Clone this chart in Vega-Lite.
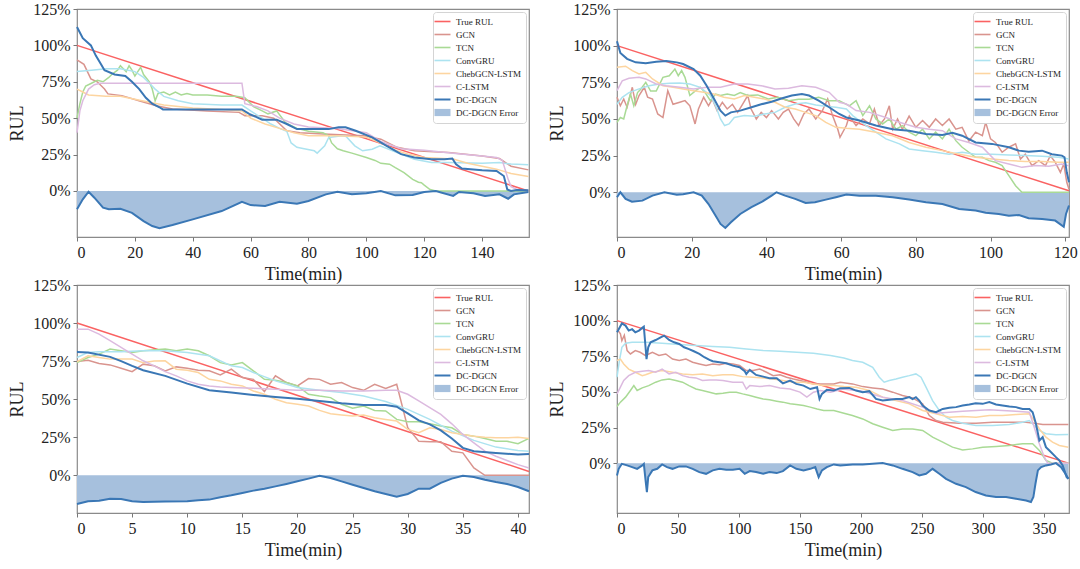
{
  "$schema": "https://vega.github.io/schema/vega-lite/v6.json",
  "background": "white",
  "padding": {"left": 8, "top": 0, "right": 0, "bottom": 4},
  "columns": 2,
  "spacing": {"row": -8, "column": 14},
  "datasets": {
    "p1": [
      {"s":"True RUL","t":0,"v":100},{"s":"True RUL","t":156,"v":0},
      {"s":"GCN","t":0,"v":90},{"s":"GCN","t":2.4,"v":87},{"s":"GCN","t":4.8,"v":77},{"s":"GCN","t":7,"v":75},{"s":"GCN","t":9.5,"v":70},{"s":"GCN","t":10.7,"v":66.7},{"s":"GCN","t":15.5,"v":65.5},{"s":"GCN","t":21.4,"v":62},{"s":"GCN","t":27.4,"v":58.6},{"s":"GCN","t":33,"v":56.3},{"s":"GCN","t":45,"v":55},{"s":"GCN","t":56,"v":54},{"s":"GCN","t":58,"v":51.7},{"s":"GCN","t":64,"v":51.7},{"s":"GCN","t":68,"v":50},{"s":"GCN","t":72.5,"v":41.4},{"s":"GCN","t":77,"v":40},{"s":"GCN","t":87,"v":39},{"s":"GCN","t":99,"v":38},{"s":"GCN","t":105,"v":35.6},{"s":"GCN","t":110.6,"v":30},{"s":"GCN","t":116.6,"v":27.6},{"s":"GCN","t":128.4,"v":26.4},{"s":"GCN","t":140,"v":24},{"s":"GCN","t":146,"v":22.3},{"s":"GCN","t":150,"v":17},{"s":"GCN","t":156,"v":14.5},
      {"s":"TCN","t":0,"v":50},{"s":"TCN","t":1,"v":60},{"s":"TCN","t":2,"v":68},{"s":"TCN","t":3,"v":72},{"s":"TCN","t":5,"v":74},{"s":"TCN","t":7,"v":76},{"s":"TCN","t":9,"v":75},{"s":"TCN","t":11,"v":78},{"s":"TCN","t":12,"v":80},{"s":"TCN","t":14,"v":83},{"s":"TCN","t":15,"v":86},{"s":"TCN","t":16,"v":84},{"s":"TCN","t":17,"v":82},{"s":"TCN","t":18,"v":86},{"s":"TCN","t":19,"v":83},{"s":"TCN","t":20,"v":79},{"s":"TCN","t":21,"v":82},{"s":"TCN","t":22,"v":85},{"s":"TCN","t":23,"v":80},{"s":"TCN","t":25,"v":75},{"s":"TCN","t":26,"v":70},{"s":"TCN","t":27,"v":62},{"s":"TCN","t":28,"v":67},{"s":"TCN","t":30,"v":68},{"s":"TCN","t":32,"v":66},{"s":"TCN","t":34,"v":68},{"s":"TCN","t":36,"v":66},{"s":"TCN","t":38,"v":67},{"s":"TCN","t":40,"v":66},{"s":"TCN","t":45,"v":66},{"s":"TCN","t":50,"v":65},{"s":"TCN","t":55,"v":65},{"s":"TCN","t":58,"v":64},{"s":"TCN","t":61,"v":58},{"s":"TCN","t":64,"v":55},{"s":"TCN","t":66,"v":53},{"s":"TCN","t":69,"v":55},{"s":"TCN","t":72,"v":47},{"s":"TCN","t":76,"v":43},{"s":"TCN","t":80,"v":41},{"s":"TCN","t":85,"v":40},{"s":"TCN","t":87,"v":38},{"s":"TCN","t":88,"v":33},{"s":"TCN","t":90,"v":29},{"s":"TCN","t":92,"v":27.6},{"s":"TCN","t":95,"v":26},{"s":"TCN","t":100,"v":23},{"s":"TCN","t":103,"v":21},{"s":"TCN","t":105,"v":19},{"s":"TCN","t":108,"v":18.4},{"s":"TCN","t":110,"v":16},{"s":"TCN","t":113,"v":12.6},{"s":"TCN","t":116,"v":8},{"s":"TCN","t":118,"v":6},{"s":"TCN","t":119,"v":5.7},{"s":"TCN","t":120,"v":4},{"s":"TCN","t":122,"v":1},{"s":"TCN","t":124,"v":0},{"s":"TCN","t":156,"v":0},
      {"s":"ConvGRU","t":0,"v":82},{"s":"ConvGRU","t":5,"v":83},{"s":"ConvGRU","t":10,"v":84},{"s":"ConvGRU","t":15,"v":84},{"s":"ConvGRU","t":20,"v":82},{"s":"ConvGRU","t":23,"v":78},{"s":"ConvGRU","t":25,"v":74},{"s":"ConvGRU","t":27,"v":70},{"s":"ConvGRU","t":30,"v":65},{"s":"ConvGRU","t":35,"v":62},{"s":"ConvGRU","t":40,"v":60},{"s":"ConvGRU","t":50,"v":59},{"s":"ConvGRU","t":57,"v":59},{"s":"ConvGRU","t":60,"v":55},{"s":"ConvGRU","t":64,"v":50},{"s":"ConvGRU","t":67,"v":46},{"s":"ConvGRU","t":70,"v":43},{"s":"ConvGRU","t":72.5,"v":41},{"s":"ConvGRU","t":74,"v":33},{"s":"ConvGRU","t":76,"v":30},{"s":"ConvGRU","t":78.5,"v":29},{"s":"ConvGRU","t":82,"v":27.6},{"s":"ConvGRU","t":83,"v":26},{"s":"ConvGRU","t":85.6,"v":31},{"s":"ConvGRU","t":87,"v":36.8},{"s":"ConvGRU","t":91.6,"v":38},{"s":"ConvGRU","t":93,"v":37.5},{"s":"ConvGRU","t":96,"v":31},{"s":"ConvGRU","t":98.7,"v":27.6},{"s":"ConvGRU","t":102,"v":28.7},{"s":"ConvGRU","t":104.7,"v":31},{"s":"ConvGRU","t":110.6,"v":26.4},{"s":"ConvGRU","t":116.6,"v":21.8},{"s":"ConvGRU","t":122.5,"v":19.5},{"s":"ConvGRU","t":128.4,"v":19.5},{"s":"ConvGRU","t":140,"v":19},{"s":"ConvGRU","t":146,"v":19.5},{"s":"ConvGRU","t":150,"v":18.5},{"s":"ConvGRU","t":156,"v":18},
      {"s":"ChebGCN-LSTM","t":0,"v":70},{"s":"ChebGCN-LSTM","t":2,"v":68},{"s":"ChebGCN-LSTM","t":4,"v":66},{"s":"ChebGCN-LSTM","t":10,"v":65},{"s":"ChebGCN-LSTM","t":15,"v":65},{"s":"ChebGCN-LSTM","t":20,"v":63},{"s":"ChebGCN-LSTM","t":25,"v":61},{"s":"ChebGCN-LSTM","t":30,"v":59},{"s":"ChebGCN-LSTM","t":40,"v":57},{"s":"ChebGCN-LSTM","t":50,"v":56},{"s":"ChebGCN-LSTM","t":57,"v":55},{"s":"ChebGCN-LSTM","t":60,"v":50},{"s":"ChebGCN-LSTM","t":65,"v":46},{"s":"ChebGCN-LSTM","t":70,"v":43},{"s":"ChebGCN-LSTM","t":75,"v":40},{"s":"ChebGCN-LSTM","t":80,"v":38},{"s":"ChebGCN-LSTM","t":90,"v":38},{"s":"ChebGCN-LSTM","t":100,"v":37},{"s":"ChebGCN-LSTM","t":105,"v":33},{"s":"ChebGCN-LSTM","t":110,"v":28},{"s":"ChebGCN-LSTM","t":115,"v":25},{"s":"ChebGCN-LSTM","t":120,"v":23},{"s":"ChebGCN-LSTM","t":130,"v":22},{"s":"ChebGCN-LSTM","t":135,"v":19},{"s":"ChebGCN-LSTM","t":140,"v":17},{"s":"ChebGCN-LSTM","t":145,"v":15},{"s":"ChebGCN-LSTM","t":150,"v":12},{"s":"ChebGCN-LSTM","t":156,"v":10},
      {"s":"C-LSTM","t":0,"v":40},{"s":"C-LSTM","t":1,"v":55},{"s":"C-LSTM","t":2,"v":62},{"s":"C-LSTM","t":4,"v":70},{"s":"C-LSTM","t":6,"v":73},{"s":"C-LSTM","t":8,"v":74},{"s":"C-LSTM","t":15,"v":74},{"s":"C-LSTM","t":25,"v":74},{"s":"C-LSTM","t":40,"v":74},{"s":"C-LSTM","t":50,"v":74},{"s":"C-LSTM","t":57,"v":74},{"s":"C-LSTM","t":58,"v":60},{"s":"C-LSTM","t":62,"v":58},{"s":"C-LSTM","t":66,"v":55},{"s":"C-LSTM","t":70,"v":50},{"s":"C-LSTM","t":75,"v":46},{"s":"C-LSTM","t":80,"v":44},{"s":"C-LSTM","t":90,"v":43},{"s":"C-LSTM","t":100,"v":40},{"s":"C-LSTM","t":105,"v":34},{"s":"C-LSTM","t":112,"v":29},{"s":"C-LSTM","t":120,"v":28},{"s":"C-LSTM","t":130,"v":26},{"s":"C-LSTM","t":140,"v":24},{"s":"C-LSTM","t":145,"v":23},{"s":"C-LSTM","t":147,"v":21},{"s":"C-LSTM","t":149,"v":8},{"s":"C-LSTM","t":150,"v":3},{"s":"C-LSTM","t":152,"v":1},{"s":"C-LSTM","t":156,"v":0},
      {"s":"DC-DGCN","t":0,"v":112.6},{"s":"DC-DGCN","t":2,"v":105},{"s":"DC-DGCN","t":4.8,"v":100},{"s":"DC-DGCN","t":6.5,"v":93},{"s":"DC-DGCN","t":8.3,"v":87},{"s":"DC-DGCN","t":9.5,"v":83},{"s":"DC-DGCN","t":13,"v":80},{"s":"DC-DGCN","t":16.7,"v":79},{"s":"DC-DGCN","t":19,"v":75},{"s":"DC-DGCN","t":21.5,"v":70},{"s":"DC-DGCN","t":23.8,"v":64},{"s":"DC-DGCN","t":26,"v":60},{"s":"DC-DGCN","t":28.5,"v":57.5},{"s":"DC-DGCN","t":29.7,"v":56},{"s":"DC-DGCN","t":35,"v":56},{"s":"DC-DGCN","t":45,"v":56},{"s":"DC-DGCN","t":57,"v":56},{"s":"DC-DGCN","t":59.5,"v":53},{"s":"DC-DGCN","t":64,"v":49},{"s":"DC-DGCN","t":69,"v":49},{"s":"DC-DGCN","t":72.5,"v":46},{"s":"DC-DGCN","t":76,"v":42.5},{"s":"DC-DGCN","t":81,"v":42.5},{"s":"DC-DGCN","t":87,"v":42.5},{"s":"DC-DGCN","t":90.4,"v":43.7},{"s":"DC-DGCN","t":92.8,"v":43.7},{"s":"DC-DGCN","t":96.3,"v":41.4},{"s":"DC-DGCN","t":102,"v":36.8},{"s":"DC-DGCN","t":107,"v":31},{"s":"DC-DGCN","t":112,"v":25.3},{"s":"DC-DGCN","t":116.6,"v":23},{"s":"DC-DGCN","t":122.5,"v":21.8},{"s":"DC-DGCN","t":127,"v":21.8},{"s":"DC-DGCN","t":129.7,"v":22.3},{"s":"DC-DGCN","t":131,"v":18.4},{"s":"DC-DGCN","t":133,"v":15.4},{"s":"DC-DGCN","t":140,"v":14.3},{"s":"DC-DGCN","t":145,"v":13.8},{"s":"DC-DGCN","t":147.5,"v":10.3},{"s":"DC-DGCN","t":148.7,"v":1},{"s":"DC-DGCN","t":150,"v":0},{"s":"DC-DGCN","t":152,"v":0.7},{"s":"DC-DGCN","t":156,"v":0.5},
      {"s":"DC-DGCN Error","t":0,"v":-12.6},{"s":"DC-DGCN Error","t":2,"v":-5.7},{"s":"DC-DGCN Error","t":4,"v":-0.5},{"s":"DC-DGCN Error","t":6,"v":-4.6},{"s":"DC-DGCN Error","t":9,"v":-11.5},{"s":"DC-DGCN Error","t":11,"v":-12.6},{"s":"DC-DGCN Error","t":15,"v":-12.2},{"s":"DC-DGCN Error","t":19,"v":-15},{"s":"DC-DGCN Error","t":23,"v":-20.7},{"s":"DC-DGCN Error","t":26,"v":-24.1},{"s":"DC-DGCN Error","t":28.5,"v":-25.5},{"s":"DC-DGCN Error","t":33,"v":-23.4},{"s":"DC-DGCN Error","t":40,"v":-19.5},{"s":"DC-DGCN Error","t":50,"v":-13.8},{"s":"DC-DGCN Error","t":57,"v":-7.4},{"s":"DC-DGCN Error","t":60,"v":-9.7},{"s":"DC-DGCN Error","t":65,"v":-10.3},{"s":"DC-DGCN Error","t":70,"v":-7.4},{"s":"DC-DGCN Error","t":76,"v":-8.7},{"s":"DC-DGCN Error","t":80,"v":-6.9},{"s":"DC-DGCN Error","t":86,"v":-2.3},{"s":"DC-DGCN Error","t":90,"v":-0.5},{"s":"DC-DGCN Error","t":95,"v":-2.3},{"s":"DC-DGCN Error","t":100,"v":-1.6},{"s":"DC-DGCN Error","t":105,"v":0},{"s":"DC-DGCN Error","t":110,"v":-3},{"s":"DC-DGCN Error","t":116,"v":-2.8},{"s":"DC-DGCN Error","t":120,"v":-0.7},{"s":"DC-DGCN Error","t":124,"v":0},{"s":"DC-DGCN Error","t":130,"v":-3.4},{"s":"DC-DGCN Error","t":132,"v":-0.7},{"s":"DC-DGCN Error","t":137,"v":-1.6},{"s":"DC-DGCN Error","t":141,"v":-3.4},{"s":"DC-DGCN Error","t":146,"v":-2.3},{"s":"DC-DGCN Error","t":149,"v":-5.3},{"s":"DC-DGCN Error","t":151,"v":-2.3},{"s":"DC-DGCN Error","t":156,"v":-0.7}
    ],
    "p2": [
      {"s":"True RUL","t":0,"v":100},{"s":"True RUL","t":121,"v":1},
      {"s":"GCN","t":0,"v":64.8},{"s":"GCN","t":0.9,"v":59},{"s":"GCN","t":1.8,"v":63.6},{"s":"GCN","t":2.7,"v":58},{"s":"GCN","t":4.1,"v":71.6},{"s":"GCN","t":5,"v":60},{"s":"GCN","t":5.9,"v":66},{"s":"GCN","t":7.3,"v":71.6},{"s":"GCN","t":8.2,"v":64.8},{"s":"GCN","t":9.5,"v":63.6},{"s":"GCN","t":10.9,"v":53.4},{"s":"GCN","t":12.3,"v":51},{"s":"GCN","t":13.6,"v":69.3},{"s":"GCN","t":15,"v":60},{"s":"GCN","t":16.8,"v":61.4},{"s":"GCN","t":18.2,"v":62.5},{"s":"GCN","t":19.5,"v":59},{"s":"GCN","t":20.9,"v":46.6},{"s":"GCN","t":21.8,"v":56.8},{"s":"GCN","t":23.2,"v":64.8},{"s":"GCN","t":24.5,"v":59},{"s":"GCN","t":25.5,"v":63.6},{"s":"GCN","t":26.8,"v":55.7},{"s":"GCN","t":28.2,"v":61.4},{"s":"GCN","t":29.5,"v":56.8},{"s":"GCN","t":30.9,"v":60},{"s":"GCN","t":32.3,"v":54.5},{"s":"GCN","t":33.6,"v":60},{"s":"GCN","t":35,"v":66},{"s":"GCN","t":35.9,"v":56.8},{"s":"GCN","t":37.3,"v":50},{"s":"GCN","t":38.6,"v":54.5},{"s":"GCN","t":40,"v":51},{"s":"GCN","t":41.4,"v":55.7},{"s":"GCN","t":43.2,"v":50},{"s":"GCN","t":44.5,"v":54.5},{"s":"GCN","t":45.9,"v":56.8},{"s":"GCN","t":47.3,"v":50},{"s":"GCN","t":48.6,"v":45.5},{"s":"GCN","t":50,"v":53.4},{"s":"GCN","t":51.4,"v":56.8},{"s":"GCN","t":53.2,"v":50},{"s":"GCN","t":55,"v":55.7},{"s":"GCN","t":56.4,"v":63.6},{"s":"GCN","t":57.7,"v":52.3},{"s":"GCN","t":59.1,"v":43},{"s":"GCN","t":59.7,"v":37.5},{"s":"GCN","t":61.4,"v":45.5},{"s":"GCN","t":62.2,"v":52},{"s":"GCN","t":64,"v":45.5},{"s":"GCN","t":65.8,"v":50},{"s":"GCN","t":67.6,"v":46.6},{"s":"GCN","t":68.9,"v":56.8},{"s":"GCN","t":70.2,"v":45.5},{"s":"GCN","t":71.6,"v":50},{"s":"GCN","t":72.9,"v":59},{"s":"GCN","t":73.8,"v":43},{"s":"GCN","t":75.1,"v":50},{"s":"GCN","t":76.4,"v":43},{"s":"GCN","t":78.2,"v":52},{"s":"GCN","t":80,"v":44.3},{"s":"GCN","t":81.8,"v":48.9},{"s":"GCN","t":83.6,"v":44.3},{"s":"GCN","t":85.3,"v":50},{"s":"GCN","t":87.1,"v":45.5},{"s":"GCN","t":88.9,"v":50},{"s":"GCN","t":90.7,"v":43},{"s":"GCN","t":92.4,"v":44.3},{"s":"GCN","t":94.2,"v":35},{"s":"GCN","t":96,"v":41},{"s":"GCN","t":97.8,"v":38.6},{"s":"GCN","t":98.7,"v":47.7},{"s":"GCN","t":100,"v":36.4},{"s":"GCN","t":101.3,"v":34},{"s":"GCN","t":103.1,"v":27.3},{"s":"GCN","t":104.9,"v":30.7},{"s":"GCN","t":106.7,"v":33},{"s":"GCN","t":108,"v":22.7},{"s":"GCN","t":109.3,"v":26},{"s":"GCN","t":111.1,"v":18.2},{"s":"GCN","t":112.9,"v":21.6},{"s":"GCN","t":114.7,"v":18.2},{"s":"GCN","t":116,"v":25},{"s":"GCN","t":117.3,"v":20.5},{"s":"GCN","t":118.7,"v":13.6},{"s":"GCN","t":119.6,"v":19.3},{"s":"GCN","t":120.4,"v":6.8},{"s":"GCN","t":121,"v":2},
      {"s":"TCN","t":0,"v":47.7},{"s":"TCN","t":0.9,"v":51},{"s":"TCN","t":1.8,"v":50},{"s":"TCN","t":2.7,"v":59},{"s":"TCN","t":3.6,"v":67},{"s":"TCN","t":4.5,"v":59},{"s":"TCN","t":5.5,"v":68},{"s":"TCN","t":6.4,"v":70.5},{"s":"TCN","t":7.7,"v":75},{"s":"TCN","t":9,"v":69},{"s":"TCN","t":10.5,"v":69},{"s":"TCN","t":12.3,"v":78.4},{"s":"TCN","t":14,"v":79.5},{"s":"TCN","t":15.5,"v":84},{"s":"TCN","t":16.4,"v":79.5},{"s":"TCN","t":17.3,"v":83},{"s":"TCN","t":18.2,"v":78.4},{"s":"TCN","t":19.5,"v":66},{"s":"TCN","t":20.9,"v":69},{"s":"TCN","t":22.3,"v":71.6},{"s":"TCN","t":23.6,"v":68},{"s":"TCN","t":25,"v":62.5},{"s":"TCN","t":26.4,"v":67},{"s":"TCN","t":27.7,"v":66},{"s":"TCN","t":29.5,"v":67},{"s":"TCN","t":31.4,"v":66},{"s":"TCN","t":33,"v":68},{"s":"TCN","t":35,"v":66},{"s":"TCN","t":37.7,"v":66.4},{"s":"TCN","t":40.5,"v":63.6},{"s":"TCN","t":43,"v":64.8},{"s":"TCN","t":46,"v":62.5},{"s":"TCN","t":48.6,"v":63.5},{"s":"TCN","t":51.4,"v":63.5},{"s":"TCN","t":54,"v":64.8},{"s":"TCN","t":56.8,"v":62.5},{"s":"TCN","t":59.5,"v":62.5},{"s":"TCN","t":61.4,"v":60},{"s":"TCN","t":62.2,"v":59},{"s":"TCN","t":64,"v":62.5},{"s":"TCN","t":65.8,"v":52.3},{"s":"TCN","t":67.6,"v":59},{"s":"TCN","t":69.3,"v":50},{"s":"TCN","t":71.1,"v":46.6},{"s":"TCN","t":72.9,"v":50},{"s":"TCN","t":74.7,"v":43},{"s":"TCN","t":76.4,"v":45.5},{"s":"TCN","t":78.2,"v":41},{"s":"TCN","t":80,"v":38.6},{"s":"TCN","t":81.8,"v":43},{"s":"TCN","t":83.6,"v":36.4},{"s":"TCN","t":85.3,"v":41},{"s":"TCN","t":87.1,"v":36.4},{"s":"TCN","t":88.9,"v":43},{"s":"TCN","t":90.7,"v":35.2},{"s":"TCN","t":92.4,"v":30.7},{"s":"TCN","t":94.2,"v":27.3},{"s":"TCN","t":96,"v":23.9},{"s":"TCN","t":97.8,"v":23.9},{"s":"TCN","t":99.6,"v":21.6},{"s":"TCN","t":101.3,"v":20.5},{"s":"TCN","t":103.1,"v":18.2},{"s":"TCN","t":104.9,"v":11.4},{"s":"TCN","t":106.7,"v":4.5},{"s":"TCN","t":108.4,"v":0},{"s":"TCN","t":121,"v":0},
      {"s":"ConvGRU","t":0,"v":60},{"s":"ConvGRU","t":1.4,"v":64.8},{"s":"ConvGRU","t":3.2,"v":68},{"s":"ConvGRU","t":5.9,"v":70.5},{"s":"ConvGRU","t":8.6,"v":72.7},{"s":"ConvGRU","t":11.4,"v":73.9},{"s":"ConvGRU","t":14.1,"v":74.3},{"s":"ConvGRU","t":16.8,"v":74.5},{"s":"ConvGRU","t":19.5,"v":73.9},{"s":"ConvGRU","t":22.3,"v":71.6},{"s":"ConvGRU","t":25,"v":66},{"s":"ConvGRU","t":26.4,"v":59},{"s":"ConvGRU","t":27.7,"v":50},{"s":"ConvGRU","t":28.8,"v":45.5},{"s":"ConvGRU","t":30,"v":46.6},{"s":"ConvGRU","t":31.4,"v":51},{"s":"ConvGRU","t":34.1,"v":52.3},{"s":"ConvGRU","t":36.8,"v":51.8},{"s":"ConvGRU","t":39.5,"v":53.4},{"s":"ConvGRU","t":42.3,"v":54.5},{"s":"ConvGRU","t":45,"v":58},{"s":"ConvGRU","t":47.7,"v":60.2},{"s":"ConvGRU","t":50.5,"v":61},{"s":"ConvGRU","t":53.2,"v":59.5},{"s":"ConvGRU","t":55.9,"v":58.6},{"s":"ConvGRU","t":58.6,"v":58},{"s":"ConvGRU","t":61.4,"v":56.8},{"s":"ConvGRU","t":63.1,"v":52.3},{"s":"ConvGRU","t":66.7,"v":45.5},{"s":"ConvGRU","t":69.3,"v":41},{"s":"ConvGRU","t":72,"v":36.4},{"s":"ConvGRU","t":75.6,"v":33},{"s":"ConvGRU","t":78.2,"v":29.5},{"s":"ConvGRU","t":81.8,"v":28.4},{"s":"ConvGRU","t":85.3,"v":27.3},{"s":"ConvGRU","t":88.9,"v":26},{"s":"ConvGRU","t":92.4,"v":27.3},{"s":"ConvGRU","t":96,"v":26},{"s":"ConvGRU","t":100.4,"v":26},{"s":"ConvGRU","t":104.9,"v":25.5},{"s":"ConvGRU","t":109.3,"v":25},{"s":"ConvGRU","t":113.8,"v":24.5},{"s":"ConvGRU","t":118.2,"v":23.9},{"s":"ConvGRU","t":121,"v":22.7},
      {"s":"ChebGCN-LSTM","t":0,"v":85.2},{"s":"ChebGCN-LSTM","t":2.3,"v":86},{"s":"ChebGCN-LSTM","t":4.1,"v":83},{"s":"ChebGCN-LSTM","t":5.9,"v":80.7},{"s":"ChebGCN-LSTM","t":7.7,"v":81.8},{"s":"ChebGCN-LSTM","t":9.5,"v":77.3},{"s":"ChebGCN-LSTM","t":12.3,"v":72.7},{"s":"ChebGCN-LSTM","t":15,"v":71.6},{"s":"ChebGCN-LSTM","t":17.7,"v":70.5},{"s":"ChebGCN-LSTM","t":20.5,"v":69.3},{"s":"ChebGCN-LSTM","t":23.2,"v":68.2},{"s":"ChebGCN-LSTM","t":25.9,"v":67},{"s":"ChebGCN-LSTM","t":28.6,"v":64.8},{"s":"ChebGCN-LSTM","t":31.4,"v":63.6},{"s":"ChebGCN-LSTM","t":34.1,"v":66},{"s":"ChebGCN-LSTM","t":36.8,"v":64.8},{"s":"ChebGCN-LSTM","t":39.5,"v":63.6},{"s":"ChebGCN-LSTM","t":42.3,"v":61.4},{"s":"ChebGCN-LSTM","t":45,"v":58},{"s":"ChebGCN-LSTM","t":47.7,"v":56.8},{"s":"ChebGCN-LSTM","t":50.5,"v":54.5},{"s":"ChebGCN-LSTM","t":53.2,"v":52.3},{"s":"ChebGCN-LSTM","t":55.9,"v":47.7},{"s":"ChebGCN-LSTM","t":58.6,"v":44.3},{"s":"ChebGCN-LSTM","t":61.4,"v":43.6},{"s":"ChebGCN-LSTM","t":64.9,"v":43},{"s":"ChebGCN-LSTM","t":69.3,"v":41},{"s":"ChebGCN-LSTM","t":73.8,"v":38.6},{"s":"ChebGCN-LSTM","t":78.2,"v":34},{"s":"ChebGCN-LSTM","t":82.7,"v":30.7},{"s":"ChebGCN-LSTM","t":87.1,"v":28.4},{"s":"ChebGCN-LSTM","t":91.6,"v":26},{"s":"ChebGCN-LSTM","t":96,"v":23.9},{"s":"ChebGCN-LSTM","t":100.4,"v":22.7},{"s":"ChebGCN-LSTM","t":104.9,"v":21.6},{"s":"ChebGCN-LSTM","t":109.3,"v":21},{"s":"ChebGCN-LSTM","t":113.8,"v":21},{"s":"ChebGCN-LSTM","t":118.2,"v":20.5},{"s":"ChebGCN-LSTM","t":121,"v":20.5},
      {"s":"C-LSTM","t":0,"v":69.3},{"s":"C-LSTM","t":1.4,"v":76},{"s":"C-LSTM","t":3.2,"v":77.7},{"s":"C-LSTM","t":5.9,"v":78.4},{"s":"C-LSTM","t":7.7,"v":77.3},{"s":"C-LSTM","t":10.5,"v":73.9},{"s":"C-LSTM","t":13.2,"v":72.7},{"s":"C-LSTM","t":16.8,"v":71.6},{"s":"C-LSTM","t":20.5,"v":70.5},{"s":"C-LSTM","t":24.1,"v":71.6},{"s":"C-LSTM","t":27.7,"v":71.6},{"s":"C-LSTM","t":31.4,"v":73.9},{"s":"C-LSTM","t":35,"v":73.9},{"s":"C-LSTM","t":38.6,"v":72.7},{"s":"C-LSTM","t":42.3,"v":70.5},{"s":"C-LSTM","t":45.9,"v":71},{"s":"C-LSTM","t":49.5,"v":72.7},{"s":"C-LSTM","t":53.2,"v":71.6},{"s":"C-LSTM","t":56.8,"v":68.2},{"s":"C-LSTM","t":59.5,"v":61.4},{"s":"C-LSTM","t":61.4,"v":60.2},{"s":"C-LSTM","t":64,"v":55.7},{"s":"C-LSTM","t":67.6,"v":54.5},{"s":"C-LSTM","t":72,"v":51},{"s":"C-LSTM","t":75.6,"v":47.7},{"s":"C-LSTM","t":80,"v":44.3},{"s":"C-LSTM","t":83.6,"v":43},{"s":"C-LSTM","t":87.1,"v":42},{"s":"C-LSTM","t":90.7,"v":36.4},{"s":"C-LSTM","t":94.2,"v":34},{"s":"C-LSTM","t":97.8,"v":30.7},{"s":"C-LSTM","t":101.3,"v":21.6},{"s":"C-LSTM","t":104.9,"v":19.3},{"s":"C-LSTM","t":108.4,"v":17},{"s":"C-LSTM","t":112,"v":18.2},{"s":"C-LSTM","t":115.6,"v":17.7},{"s":"C-LSTM","t":119.1,"v":19.3},{"s":"C-LSTM","t":121,"v":18},
      {"s":"DC-DGCN","t":0,"v":103},{"s":"DC-DGCN","t":0.9,"v":95},{"s":"DC-DGCN","t":2.7,"v":91},{"s":"DC-DGCN","t":5,"v":88.6},{"s":"DC-DGCN","t":7.7,"v":88},{"s":"DC-DGCN","t":10.5,"v":89},{"s":"DC-DGCN","t":13.2,"v":89.5},{"s":"DC-DGCN","t":16,"v":88.6},{"s":"DC-DGCN","t":17.7,"v":87.5},{"s":"DC-DGCN","t":20.5,"v":84},{"s":"DC-DGCN","t":22.3,"v":79.5},{"s":"DC-DGCN","t":24,"v":72.7},{"s":"DC-DGCN","t":26,"v":63.6},{"s":"DC-DGCN","t":27.7,"v":55.7},{"s":"DC-DGCN","t":29,"v":52.3},{"s":"DC-DGCN","t":30.5,"v":54.5},{"s":"DC-DGCN","t":33,"v":55.7},{"s":"DC-DGCN","t":36,"v":58},{"s":"DC-DGCN","t":38.6,"v":60},{"s":"DC-DGCN","t":41.4,"v":61.8},{"s":"DC-DGCN","t":44,"v":64},{"s":"DC-DGCN","t":46.8,"v":66},{"s":"DC-DGCN","t":49.5,"v":67},{"s":"DC-DGCN","t":51.4,"v":66},{"s":"DC-DGCN","t":54,"v":62.5},{"s":"DC-DGCN","t":56.8,"v":58},{"s":"DC-DGCN","t":59.5,"v":53.4},{"s":"DC-DGCN","t":61.4,"v":51},{"s":"DC-DGCN","t":64.9,"v":48.9},{"s":"DC-DGCN","t":69.3,"v":45.5},{"s":"DC-DGCN","t":73.8,"v":43},{"s":"DC-DGCN","t":78.2,"v":42},{"s":"DC-DGCN","t":82.7,"v":39.8},{"s":"DC-DGCN","t":87.1,"v":39},{"s":"DC-DGCN","t":89.8,"v":40.5},{"s":"DC-DGCN","t":92.4,"v":38.6},{"s":"DC-DGCN","t":96,"v":34},{"s":"DC-DGCN","t":100.4,"v":33},{"s":"DC-DGCN","t":104.9,"v":30.7},{"s":"DC-DGCN","t":107.6,"v":28.4},{"s":"DC-DGCN","t":110.2,"v":27.7},{"s":"DC-DGCN","t":113.8,"v":28.4},{"s":"DC-DGCN","t":116.4,"v":26},{"s":"DC-DGCN","t":119.1,"v":25},{"s":"DC-DGCN","t":119.8,"v":23.9},{"s":"DC-DGCN","t":120.4,"v":13.6},{"s":"DC-DGCN","t":121,"v":6.8},
      {"s":"DC-DGCN Error","t":0,"v":-3.4},{"s":"DC-DGCN Error","t":0.9,"v":0},{"s":"DC-DGCN Error","t":2.3,"v":-4.5},{"s":"DC-DGCN Error","t":4,"v":-6.4},{"s":"DC-DGCN Error","t":6.8,"v":-5.7},{"s":"DC-DGCN Error","t":9.5,"v":-2.3},{"s":"DC-DGCN Error","t":12.7,"v":0},{"s":"DC-DGCN Error","t":16,"v":-1.6},{"s":"DC-DGCN Error","t":17.7,"v":-1.4},{"s":"DC-DGCN Error","t":20.5,"v":0},{"s":"DC-DGCN Error","t":22.7,"v":-2.3},{"s":"DC-DGCN Error","t":24.5,"v":-8},{"s":"DC-DGCN Error","t":26.4,"v":-16},{"s":"DC-DGCN Error","t":27.7,"v":-21.6},{"s":"DC-DGCN Error","t":29,"v":-24.3},{"s":"DC-DGCN Error","t":30.5,"v":-20.5},{"s":"DC-DGCN Error","t":33,"v":-14.8},{"s":"DC-DGCN Error","t":36,"v":-10.2},{"s":"DC-DGCN Error","t":38.6,"v":-6.8},{"s":"DC-DGCN Error","t":41.4,"v":-2.3},{"s":"DC-DGCN Error","t":42.7,"v":0},{"s":"DC-DGCN Error","t":45,"v":-2.3},{"s":"DC-DGCN Error","t":47.7,"v":-4.5},{"s":"DC-DGCN Error","t":50.5,"v":-7.3},{"s":"DC-DGCN Error","t":53,"v":-6.8},{"s":"DC-DGCN Error","t":55.9,"v":-5},{"s":"DC-DGCN Error","t":58.6,"v":-3.4},{"s":"DC-DGCN Error","t":61.4,"v":-1.6},{"s":"DC-DGCN Error","t":64.9,"v":-2.3},{"s":"DC-DGCN Error","t":69.3,"v":-2.3},{"s":"DC-DGCN Error","t":73.8,"v":-3.4},{"s":"DC-DGCN Error","t":78.2,"v":-5},{"s":"DC-DGCN Error","t":82.7,"v":-6.8},{"s":"DC-DGCN Error","t":87.1,"v":-8},{"s":"DC-DGCN Error","t":91.6,"v":-11.4},{"s":"DC-DGCN Error","t":96,"v":-12.5},{"s":"DC-DGCN Error","t":98.7,"v":-14},{"s":"DC-DGCN Error","t":102.2,"v":-14.8},{"s":"DC-DGCN Error","t":104.9,"v":-16},{"s":"DC-DGCN Error","t":107.6,"v":-15.5},{"s":"DC-DGCN Error","t":110.2,"v":-17.7},{"s":"DC-DGCN Error","t":113.8,"v":-18.2},{"s":"DC-DGCN Error","t":117.3,"v":-19.3},{"s":"DC-DGCN Error","t":119.6,"v":-23.5},{"s":"DC-DGCN Error","t":120.2,"v":-14.8},{"s":"DC-DGCN Error","t":121,"v":-9}
    ],
    "p3": [
      {"s":"True RUL","t":0,"v":100},{"s":"True RUL","t":41,"v":2.5},
      {"s":"GCN","t":0,"v":74.7},{"s":"GCN","t":1,"v":75.6},{"s":"GCN","t":2,"v":73.4},{"s":"GCN","t":3,"v":72.5},{"s":"GCN","t":4,"v":70.3},{"s":"GCN","t":5,"v":68.1},{"s":"GCN","t":6,"v":73},{"s":"GCN","t":7,"v":71.9},{"s":"GCN","t":8,"v":68.6},{"s":"GCN","t":9,"v":71.2},{"s":"GCN","t":10,"v":70.3},{"s":"GCN","t":11,"v":69},{"s":"GCN","t":12,"v":68.6},{"s":"GCN","t":13,"v":65.9},{"s":"GCN","t":14,"v":69.7},{"s":"GCN","t":15,"v":64.2},{"s":"GCN","t":16,"v":63},{"s":"GCN","t":17,"v":55},{"s":"GCN","t":18,"v":65.3},{"s":"GCN","t":19,"v":60.9},{"s":"GCN","t":20,"v":58.7},{"s":"GCN","t":21,"v":63.5},{"s":"GCN","t":22,"v":63},{"s":"GCN","t":23,"v":59.8},{"s":"GCN","t":24,"v":60.9},{"s":"GCN","t":25,"v":57.6},{"s":"GCN","t":26,"v":55.8},{"s":"GCN","t":27,"v":59.8},{"s":"GCN","t":28,"v":57.1},{"s":"GCN","t":29,"v":59.8},{"s":"GCN","t":30,"v":31.2},{"s":"GCN","t":31,"v":22.4},{"s":"GCN","t":32,"v":22},{"s":"GCN","t":33,"v":22},{"s":"GCN","t":34,"v":15.8},{"s":"GCN","t":35,"v":14.7},{"s":"GCN","t":36,"v":4.8},{"s":"GCN","t":37,"v":0},{"s":"GCN","t":41,"v":0},
      {"s":"TCN","t":0,"v":74},{"s":"TCN","t":1,"v":77.4},{"s":"TCN","t":2,"v":79.6},{"s":"TCN","t":3,"v":82.9},{"s":"TCN","t":4,"v":81.8},{"s":"TCN","t":5,"v":80.7},{"s":"TCN","t":6,"v":81.8},{"s":"TCN","t":8,"v":82.9},{"s":"TCN","t":9,"v":81.8},{"s":"TCN","t":10,"v":82.9},{"s":"TCN","t":11,"v":81.8},{"s":"TCN","t":12,"v":78.5},{"s":"TCN","t":13,"v":74},{"s":"TCN","t":14,"v":72.5},{"s":"TCN","t":15,"v":74},{"s":"TCN","t":16,"v":68.6},{"s":"TCN","t":17,"v":63},{"s":"TCN","t":18,"v":62.4},{"s":"TCN","t":19,"v":60.9},{"s":"TCN","t":20,"v":58.7},{"s":"TCN","t":21,"v":53.2},{"s":"TCN","t":22,"v":52},{"s":"TCN","t":23,"v":51},{"s":"TCN","t":24,"v":46.6},{"s":"TCN","t":25,"v":44},{"s":"TCN","t":26,"v":45.5},{"s":"TCN","t":27,"v":42.6},{"s":"TCN","t":28,"v":42.2},{"s":"TCN","t":29,"v":36.7},{"s":"TCN","t":30,"v":35.2},{"s":"TCN","t":31,"v":35.2},{"s":"TCN","t":32,"v":33.8},{"s":"TCN","t":33,"v":32.3},{"s":"TCN","t":34,"v":31.2},{"s":"TCN","t":35,"v":26.8},{"s":"TCN","t":36,"v":25.7},{"s":"TCN","t":37,"v":24.2},{"s":"TCN","t":38,"v":22.4},{"s":"TCN","t":39,"v":22.4},{"s":"TCN","t":40,"v":20.7},{"s":"TCN","t":41,"v":24.2},
      {"s":"ConvGRU","t":0,"v":77.4},{"s":"ConvGRU","t":1,"v":80.7},{"s":"ConvGRU","t":2,"v":81.1},{"s":"ConvGRU","t":4,"v":81.1},{"s":"ConvGRU","t":6,"v":81.8},{"s":"ConvGRU","t":8,"v":81.8},{"s":"ConvGRU","t":10,"v":80.7},{"s":"ConvGRU","t":12,"v":78.5},{"s":"ConvGRU","t":14,"v":71.9},{"s":"ConvGRU","t":15,"v":70.8},{"s":"ConvGRU","t":16,"v":67.5},{"s":"ConvGRU","t":18,"v":62},{"s":"ConvGRU","t":20,"v":57.6},{"s":"ConvGRU","t":22,"v":55.8},{"s":"ConvGRU","t":24,"v":54.3},{"s":"ConvGRU","t":26,"v":52},{"s":"ConvGRU","t":28,"v":48.4},{"s":"ConvGRU","t":30,"v":43.3},{"s":"ConvGRU","t":32,"v":36.7},{"s":"ConvGRU","t":34,"v":29},{"s":"ConvGRU","t":36,"v":22.9},{"s":"ConvGRU","t":38,"v":18.5},{"s":"ConvGRU","t":40,"v":16.3},{"s":"ConvGRU","t":41,"v":15.8},
      {"s":"ChebGCN-LSTM","t":0,"v":74.7},{"s":"ChebGCN-LSTM","t":1,"v":78.5},{"s":"ChebGCN-LSTM","t":2,"v":77.4},{"s":"ChebGCN-LSTM","t":3,"v":76.3},{"s":"ChebGCN-LSTM","t":5,"v":76.3},{"s":"ChebGCN-LSTM","t":6,"v":74},{"s":"ChebGCN-LSTM","t":7,"v":75},{"s":"ChebGCN-LSTM","t":8,"v":75.2},{"s":"ChebGCN-LSTM","t":9,"v":69.7},{"s":"ChebGCN-LSTM","t":10,"v":69},{"s":"ChebGCN-LSTM","t":11,"v":67.5},{"s":"ChebGCN-LSTM","t":12,"v":63},{"s":"ChebGCN-LSTM","t":13,"v":62},{"s":"ChebGCN-LSTM","t":14,"v":59.8},{"s":"ChebGCN-LSTM","t":15,"v":58.7},{"s":"ChebGCN-LSTM","t":16,"v":55.4},{"s":"ChebGCN-LSTM","t":17,"v":53.2},{"s":"ChebGCN-LSTM","t":18,"v":49.9},{"s":"ChebGCN-LSTM","t":19,"v":47.7},{"s":"ChebGCN-LSTM","t":20,"v":46.6},{"s":"ChebGCN-LSTM","t":21,"v":45.5},{"s":"ChebGCN-LSTM","t":22,"v":42.6},{"s":"ChebGCN-LSTM","t":23,"v":40.4},{"s":"ChebGCN-LSTM","t":24,"v":39.6},{"s":"ChebGCN-LSTM","t":25,"v":38.9},{"s":"ChebGCN-LSTM","t":26,"v":39.6},{"s":"ChebGCN-LSTM","t":27,"v":37.8},{"s":"ChebGCN-LSTM","t":28,"v":36.7},{"s":"ChebGCN-LSTM","t":29,"v":35.6},{"s":"ChebGCN-LSTM","t":30,"v":30.1},{"s":"ChebGCN-LSTM","t":31,"v":27.9},{"s":"ChebGCN-LSTM","t":32,"v":31.2},{"s":"ChebGCN-LSTM","t":33,"v":30.1},{"s":"ChebGCN-LSTM","t":34,"v":27.9},{"s":"ChebGCN-LSTM","t":35,"v":26.8},{"s":"ChebGCN-LSTM","t":36,"v":25.7},{"s":"ChebGCN-LSTM","t":37,"v":25},{"s":"ChebGCN-LSTM","t":38,"v":24.6},{"s":"ChebGCN-LSTM","t":39,"v":24.6},{"s":"ChebGCN-LSTM","t":40,"v":25},{"s":"ChebGCN-LSTM","t":41,"v":24.2},
      {"s":"C-LSTM","t":0,"v":96},{"s":"C-LSTM","t":1,"v":96},{"s":"C-LSTM","t":2,"v":92.7},{"s":"C-LSTM","t":3,"v":88.4},{"s":"C-LSTM","t":4,"v":84},{"s":"C-LSTM","t":5,"v":79.6},{"s":"C-LSTM","t":6,"v":75.2},{"s":"C-LSTM","t":7,"v":71.9},{"s":"C-LSTM","t":8,"v":68.1},{"s":"C-LSTM","t":9,"v":65.3},{"s":"C-LSTM","t":10,"v":62},{"s":"C-LSTM","t":11,"v":59.8},{"s":"C-LSTM","t":12,"v":58.7},{"s":"C-LSTM","t":13,"v":58},{"s":"C-LSTM","t":14,"v":57.6},{"s":"C-LSTM","t":16,"v":57.1},{"s":"C-LSTM","t":18,"v":56.5},{"s":"C-LSTM","t":20,"v":55.8},{"s":"C-LSTM","t":22,"v":55.8},{"s":"C-LSTM","t":24,"v":55.4},{"s":"C-LSTM","t":26,"v":55.4},{"s":"C-LSTM","t":28,"v":55.8},{"s":"C-LSTM","t":29,"v":55.8},{"s":"C-LSTM","t":30,"v":53.2},{"s":"C-LSTM","t":31,"v":48.8},{"s":"C-LSTM","t":32,"v":44.4},{"s":"C-LSTM","t":33,"v":40},{"s":"C-LSTM","t":34,"v":33.8},{"s":"C-LSTM","t":35,"v":26.8},{"s":"C-LSTM","t":36,"v":21.3},{"s":"C-LSTM","t":37,"v":15.8},{"s":"C-LSTM","t":38,"v":12.5},{"s":"C-LSTM","t":39,"v":9.7},{"s":"C-LSTM","t":40,"v":7},{"s":"C-LSTM","t":41,"v":4.8},
      {"s":"DC-DGCN","t":0,"v":81},{"s":"DC-DGCN","t":1,"v":80.7},{"s":"DC-DGCN","t":3,"v":77.8},{"s":"DC-DGCN","t":4,"v":75},{"s":"DC-DGCN","t":5,"v":71.9},{"s":"DC-DGCN","t":6,"v":69},{"s":"DC-DGCN","t":8,"v":65.3},{"s":"DC-DGCN","t":10,"v":60.2},{"s":"DC-DGCN","t":12,"v":55.8},{"s":"DC-DGCN","t":14,"v":54.3},{"s":"DC-DGCN","t":16,"v":52.7},{"s":"DC-DGCN","t":18,"v":51.4},{"s":"DC-DGCN","t":20,"v":50.3},{"s":"DC-DGCN","t":22,"v":48.8},{"s":"DC-DGCN","t":24,"v":47.3},{"s":"DC-DGCN","t":26,"v":46.2},{"s":"DC-DGCN","t":28,"v":46.2},{"s":"DC-DGCN","t":29,"v":45},{"s":"DC-DGCN","t":30,"v":40.7},{"s":"DC-DGCN","t":31,"v":36},{"s":"DC-DGCN","t":32,"v":33.4},{"s":"DC-DGCN","t":33,"v":29.5},{"s":"DC-DGCN","t":34,"v":24.2},{"s":"DC-DGCN","t":35,"v":18},{"s":"DC-DGCN","t":36,"v":15.8},{"s":"DC-DGCN","t":38,"v":14.7},{"s":"DC-DGCN","t":40,"v":13.6},{"s":"DC-DGCN","t":41,"v":14},
      {"s":"DC-DGCN Error","t":0,"v":-18.9},{"s":"DC-DGCN Error","t":1,"v":-17.1},{"s":"DC-DGCN Error","t":2,"v":-16.7},{"s":"DC-DGCN Error","t":3,"v":-15.4},{"s":"DC-DGCN Error","t":4,"v":-15.6},{"s":"DC-DGCN Error","t":5,"v":-17.1},{"s":"DC-DGCN Error","t":6,"v":-17.6},{"s":"DC-DGCN Error","t":8,"v":-17.2},{"s":"DC-DGCN Error","t":10,"v":-17.1},{"s":"DC-DGCN Error","t":11,"v":-16.5},{"s":"DC-DGCN Error","t":12,"v":-16},{"s":"DC-DGCN Error","t":13,"v":-14.5},{"s":"DC-DGCN Error","t":14,"v":-13.2},{"s":"DC-DGCN Error","t":15,"v":-11.6},{"s":"DC-DGCN Error","t":16,"v":-10.1},{"s":"DC-DGCN Error","t":17,"v":-8.8},{"s":"DC-DGCN Error","t":18,"v":-7.3},{"s":"DC-DGCN Error","t":19,"v":-5.7},{"s":"DC-DGCN Error","t":20,"v":-4},{"s":"DC-DGCN Error","t":21,"v":-2.2},{"s":"DC-DGCN Error","t":22,"v":-0.4},{"s":"DC-DGCN Error","t":23,"v":-1.8},{"s":"DC-DGCN Error","t":24,"v":-4},{"s":"DC-DGCN Error","t":25,"v":-6.2},{"s":"DC-DGCN Error","t":26,"v":-8.4},{"s":"DC-DGCN Error","t":27,"v":-10.5},{"s":"DC-DGCN Error","t":28,"v":-12.3},{"s":"DC-DGCN Error","t":29,"v":-14.1},{"s":"DC-DGCN Error","t":30,"v":-12.3},{"s":"DC-DGCN Error","t":31,"v":-8.8},{"s":"DC-DGCN Error","t":32,"v":-8.8},{"s":"DC-DGCN Error","t":33,"v":-5},{"s":"DC-DGCN Error","t":34,"v":-2.2},{"s":"DC-DGCN Error","t":35,"v":-0.4},{"s":"DC-DGCN Error","t":36,"v":-1.1},{"s":"DC-DGCN Error","t":37,"v":-2.9},{"s":"DC-DGCN Error","t":38,"v":-4.4},{"s":"DC-DGCN Error","t":39,"v":-5.7},{"s":"DC-DGCN Error","t":40,"v":-7.7},{"s":"DC-DGCN Error","t":41,"v":-10.5}
    ],
    "p4": [
      {"s":"True RUL","t":0,"v":100},{"s":"True RUL","t":370,"v":0},
      {"s":"GCN","t":0,"v":94},{"s":"GCN","t":2.8,"v":90.7},{"s":"GCN","t":4,"v":86},{"s":"GCN","t":6,"v":89.7},{"s":"GCN","t":8.3,"v":79},{"s":"GCN","t":11,"v":76.6},{"s":"GCN","t":15,"v":79},{"s":"GCN","t":19,"v":77.8},{"s":"GCN","t":23.4,"v":75.5},{"s":"GCN","t":29,"v":77.8},{"s":"GCN","t":34.4,"v":75.5},{"s":"GCN","t":40,"v":76.6},{"s":"GCN","t":45.5,"v":73},{"s":"GCN","t":51,"v":72},{"s":"GCN","t":56.5,"v":73},{"s":"GCN","t":62,"v":70.8},{"s":"GCN","t":67.5,"v":69.6},{"s":"GCN","t":73,"v":68.5},{"s":"GCN","t":78.5,"v":69.6},{"s":"GCN","t":84,"v":69},{"s":"GCN","t":89.5,"v":70},{"s":"GCN","t":95,"v":69.6},{"s":"GCN","t":100.5,"v":68.5},{"s":"GCN","t":106,"v":65},{"s":"GCN","t":111.6,"v":65},{"s":"GCN","t":117,"v":66},{"s":"GCN","t":122.6,"v":63.8},{"s":"GCN","t":128,"v":61.4},{"s":"GCN","t":133.6,"v":62},{"s":"GCN","t":139,"v":60.3},{"s":"GCN","t":144.6,"v":59},{"s":"GCN","t":150,"v":58},{"s":"GCN","t":155.6,"v":56.8},{"s":"GCN","t":161,"v":55.6},{"s":"GCN","t":166.7,"v":55.6},{"s":"GCN","t":172,"v":55.6},{"s":"GCN","t":177.7,"v":55.6},{"s":"GCN","t":183,"v":56.8},{"s":"GCN","t":193,"v":55.6},{"s":"GCN","t":201.4,"v":53.7},{"s":"GCN","t":209.6,"v":52.8},{"s":"GCN","t":217.8,"v":52},{"s":"GCN","t":226,"v":49.8},{"s":"GCN","t":234,"v":47.4},{"s":"GCN","t":242.3,"v":45.8},{"s":"GCN","t":250.5,"v":41.6},{"s":"GCN","t":256,"v":33.4},{"s":"GCN","t":261.5,"v":29.9},{"s":"GCN","t":267,"v":28.7},{"s":"GCN","t":280.6,"v":28},{"s":"GCN","t":294.3,"v":28},{"s":"GCN","t":308,"v":28.7},{"s":"GCN","t":321.6,"v":28.7},{"s":"GCN","t":335.3,"v":28.7},{"s":"GCN","t":342,"v":28},{"s":"GCN","t":349,"v":27.1},{"s":"GCN","t":370,"v":27.1},
      {"s":"TCN","t":0,"v":39.7},{"s":"TCN","t":2.8,"v":42.8},{"s":"TCN","t":7,"v":46.3},{"s":"TCN","t":11,"v":51},{"s":"TCN","t":13.8,"v":54.4},{"s":"TCN","t":16.5,"v":51},{"s":"TCN","t":20.7,"v":52.8},{"s":"TCN","t":26,"v":54.4},{"s":"TCN","t":31.7,"v":56.8},{"s":"TCN","t":37,"v":58.4},{"s":"TCN","t":42.7,"v":59.1},{"s":"TCN","t":48.2,"v":58},{"s":"TCN","t":53.7,"v":56.8},{"s":"TCN","t":59,"v":54.4},{"s":"TCN","t":64.7,"v":52},{"s":"TCN","t":70,"v":51},{"s":"TCN","t":75.8,"v":49.8},{"s":"TCN","t":81.3,"v":48.6},{"s":"TCN","t":86.8,"v":49},{"s":"TCN","t":92.3,"v":49.8},{"s":"TCN","t":97.8,"v":49.8},{"s":"TCN","t":103,"v":48.6},{"s":"TCN","t":108.8,"v":47.4},{"s":"TCN","t":114,"v":46.3},{"s":"TCN","t":119.8,"v":45},{"s":"TCN","t":125,"v":44.4},{"s":"TCN","t":130.9,"v":43.5},{"s":"TCN","t":136,"v":42.8},{"s":"TCN","t":141.9,"v":41.6},{"s":"TCN","t":147,"v":41.1},{"s":"TCN","t":152.9,"v":40.4},{"s":"TCN","t":158.4,"v":39.3},{"s":"TCN","t":164,"v":38},{"s":"TCN","t":169.4,"v":36.9},{"s":"TCN","t":177.7,"v":36.9},{"s":"TCN","t":186,"v":35},{"s":"TCN","t":193,"v":33.4},{"s":"TCN","t":201.4,"v":31},{"s":"TCN","t":209.6,"v":27.6},{"s":"TCN","t":217.8,"v":25.2},{"s":"TCN","t":226,"v":22.9},{"s":"TCN","t":234,"v":24},{"s":"TCN","t":242.3,"v":24},{"s":"TCN","t":250.5,"v":22.9},{"s":"TCN","t":258.7,"v":18.2},{"s":"TCN","t":267,"v":14.7},{"s":"TCN","t":275,"v":11.2},{"s":"TCN","t":283.3,"v":9.3},{"s":"TCN","t":291.5,"v":10},{"s":"TCN","t":299.7,"v":11.2},{"s":"TCN","t":310.7,"v":11.7},{"s":"TCN","t":321.6,"v":12.4},{"s":"TCN","t":332.5,"v":13.6},{"s":"TCN","t":340.7,"v":13.6},{"s":"TCN","t":346.2,"v":8.9},{"s":"TCN","t":351.6,"v":1.9},{"s":"TCN","t":357,"v":0},{"s":"TCN","t":370,"v":0},
      {"s":"ConvGRU","t":0,"v":60.3},{"s":"ConvGRU","t":2,"v":72},{"s":"ConvGRU","t":4,"v":81.3},{"s":"ConvGRU","t":7,"v":84.1},{"s":"ConvGRU","t":12.4,"v":84.8},{"s":"ConvGRU","t":23.4,"v":84.8},{"s":"ConvGRU","t":37,"v":84.1},{"s":"ConvGRU","t":51,"v":83.2},{"s":"ConvGRU","t":64.7,"v":82.5},{"s":"ConvGRU","t":78.5,"v":81.8},{"s":"ConvGRU","t":92.3,"v":81.3},{"s":"ConvGRU","t":106,"v":80.1},{"s":"ConvGRU","t":119.8,"v":79},{"s":"ConvGRU","t":133.6,"v":78.5},{"s":"ConvGRU","t":147.4,"v":77.8},{"s":"ConvGRU","t":161,"v":77.1},{"s":"ConvGRU","t":175,"v":75.5},{"s":"ConvGRU","t":186,"v":73.8},{"s":"ConvGRU","t":193,"v":72},{"s":"ConvGRU","t":201.4,"v":70.8},{"s":"ConvGRU","t":209.6,"v":67.3},{"s":"ConvGRU","t":215,"v":60.3},{"s":"ConvGRU","t":219,"v":56.8},{"s":"ConvGRU","t":223.2,"v":58},{"s":"ConvGRU","t":228.7,"v":59},{"s":"ConvGRU","t":234,"v":60.3},{"s":"ConvGRU","t":239.6,"v":61.4},{"s":"ConvGRU","t":245,"v":62.6},{"s":"ConvGRU","t":249.2,"v":60.3},{"s":"ConvGRU","t":253.3,"v":53.3},{"s":"ConvGRU","t":258.7,"v":43.9},{"s":"ConvGRU","t":264.2,"v":36.9},{"s":"ConvGRU","t":269.7,"v":32.2},{"s":"ConvGRU","t":275,"v":29.9},{"s":"ConvGRU","t":283.3,"v":28},{"s":"ConvGRU","t":294.3,"v":26.4},{"s":"ConvGRU","t":308,"v":26.4},{"s":"ConvGRU","t":321.6,"v":27.1},{"s":"ConvGRU","t":332.5,"v":28.7},{"s":"ConvGRU","t":338,"v":29.9},{"s":"ConvGRU","t":342,"v":26.4},{"s":"ConvGRU","t":346.2,"v":22.9},{"s":"ConvGRU","t":351.6,"v":20.6},{"s":"ConvGRU","t":359.8,"v":19.9},{"s":"ConvGRU","t":370,"v":20.1},
      {"s":"ChebGCN-LSTM","t":0,"v":72},{"s":"ChebGCN-LSTM","t":2.8,"v":73},{"s":"ChebGCN-LSTM","t":5.5,"v":69.6},{"s":"ChebGCN-LSTM","t":9.6,"v":66},{"s":"ChebGCN-LSTM","t":15,"v":63.8},{"s":"ChebGCN-LSTM","t":20.7,"v":61.4},{"s":"ChebGCN-LSTM","t":23.4,"v":62},{"s":"ChebGCN-LSTM","t":29,"v":63.8},{"s":"ChebGCN-LSTM","t":37,"v":65},{"s":"ChebGCN-LSTM","t":45.5,"v":63.8},{"s":"ChebGCN-LSTM","t":53.7,"v":62.6},{"s":"ChebGCN-LSTM","t":62,"v":62},{"s":"ChebGCN-LSTM","t":70,"v":62.6},{"s":"ChebGCN-LSTM","t":78.5,"v":61.4},{"s":"ChebGCN-LSTM","t":86.8,"v":62},{"s":"ChebGCN-LSTM","t":95,"v":62},{"s":"ChebGCN-LSTM","t":103,"v":60.7},{"s":"ChebGCN-LSTM","t":111.6,"v":60.3},{"s":"ChebGCN-LSTM","t":119.8,"v":59.8},{"s":"ChebGCN-LSTM","t":128,"v":59},{"s":"ChebGCN-LSTM","t":136,"v":58},{"s":"ChebGCN-LSTM","t":144.6,"v":56.8},{"s":"ChebGCN-LSTM","t":152.9,"v":56.8},{"s":"ChebGCN-LSTM","t":161,"v":55.6},{"s":"ChebGCN-LSTM","t":169.4,"v":54.4},{"s":"ChebGCN-LSTM","t":177.7,"v":54.4},{"s":"ChebGCN-LSTM","t":186,"v":53.7},{"s":"ChebGCN-LSTM","t":196,"v":53.3},{"s":"ChebGCN-LSTM","t":206.8,"v":51},{"s":"ChebGCN-LSTM","t":217.8,"v":46.3},{"s":"ChebGCN-LSTM","t":228.7,"v":43.9},{"s":"ChebGCN-LSTM","t":239.6,"v":41.6},{"s":"ChebGCN-LSTM","t":250.5,"v":36.9},{"s":"ChebGCN-LSTM","t":261.5,"v":34.6},{"s":"ChebGCN-LSTM","t":272.4,"v":32.2},{"s":"ChebGCN-LSTM","t":283.3,"v":32.7},{"s":"ChebGCN-LSTM","t":294.3,"v":32.2},{"s":"ChebGCN-LSTM","t":305.2,"v":33.4},{"s":"ChebGCN-LSTM","t":316,"v":33.4},{"s":"ChebGCN-LSTM","t":327,"v":34.1},{"s":"ChebGCN-LSTM","t":338,"v":34.6},{"s":"ChebGCN-LSTM","t":342,"v":29.9},{"s":"ChebGCN-LSTM","t":346.2,"v":24},{"s":"ChebGCN-LSTM","t":351.6,"v":18.2},{"s":"ChebGCN-LSTM","t":357,"v":14.7},{"s":"ChebGCN-LSTM","t":362.6,"v":12.4},{"s":"ChebGCN-LSTM","t":370,"v":11.2},
      {"s":"C-LSTM","t":0,"v":48.6},{"s":"C-LSTM","t":2.8,"v":53.3},{"s":"C-LSTM","t":5.5,"v":58},{"s":"C-LSTM","t":9.6,"v":61.4},{"s":"C-LSTM","t":15,"v":63.8},{"s":"C-LSTM","t":20.7,"v":64.5},{"s":"C-LSTM","t":26,"v":65},{"s":"C-LSTM","t":31.7,"v":63.8},{"s":"C-LSTM","t":37,"v":66},{"s":"C-LSTM","t":42.7,"v":62.6},{"s":"C-LSTM","t":48.2,"v":63.8},{"s":"C-LSTM","t":53.7,"v":61.4},{"s":"C-LSTM","t":59,"v":60.3},{"s":"C-LSTM","t":64.7,"v":59.8},{"s":"C-LSTM","t":70,"v":58},{"s":"C-LSTM","t":75.8,"v":58.4},{"s":"C-LSTM","t":81.3,"v":58.4},{"s":"C-LSTM","t":86.8,"v":58},{"s":"C-LSTM","t":95,"v":56.8},{"s":"C-LSTM","t":103,"v":56.8},{"s":"C-LSTM","t":106,"v":52},{"s":"C-LSTM","t":108.8,"v":54.4},{"s":"C-LSTM","t":117,"v":53.7},{"s":"C-LSTM","t":125,"v":54.4},{"s":"C-LSTM","t":133.6,"v":52.8},{"s":"C-LSTM","t":141.9,"v":52},{"s":"C-LSTM","t":150,"v":49.8},{"s":"C-LSTM","t":155.6,"v":46.3},{"s":"C-LSTM","t":161,"v":49.8},{"s":"C-LSTM","t":166.7,"v":51},{"s":"C-LSTM","t":175,"v":49.8},{"s":"C-LSTM","t":185,"v":52},{"s":"C-LSTM","t":201,"v":50.5},{"s":"C-LSTM","t":217.8,"v":46.3},{"s":"C-LSTM","t":234,"v":43.9},{"s":"C-LSTM","t":250.5,"v":39.3},{"s":"C-LSTM","t":261.5,"v":35},{"s":"C-LSTM","t":272.4,"v":35.7},{"s":"C-LSTM","t":283.3,"v":36.4},{"s":"C-LSTM","t":294.3,"v":36.9},{"s":"C-LSTM","t":305.2,"v":37.4},{"s":"C-LSTM","t":316,"v":36.9},{"s":"C-LSTM","t":327,"v":36.4},{"s":"C-LSTM","t":338,"v":35.7},{"s":"C-LSTM","t":342,"v":25.2},{"s":"C-LSTM","t":346.2,"v":13.6},{"s":"C-LSTM","t":350.3,"v":4.2},{"s":"C-LSTM","t":353,"v":0},{"s":"C-LSTM","t":370,"v":0},
      {"s":"DC-DGCN","t":0,"v":91.8},{"s":"DC-DGCN","t":1.4,"v":94},{"s":"DC-DGCN","t":4,"v":98},{"s":"DC-DGCN","t":7,"v":96.5},{"s":"DC-DGCN","t":9.6,"v":93},{"s":"DC-DGCN","t":12.4,"v":94},{"s":"DC-DGCN","t":15,"v":91.8},{"s":"DC-DGCN","t":18,"v":93},{"s":"DC-DGCN","t":20.7,"v":94.9},{"s":"DC-DGCN","t":22,"v":95.8},{"s":"DC-DGCN","t":23.4,"v":81.3},{"s":"DC-DGCN","t":24.2,"v":73},{"s":"DC-DGCN","t":25.6,"v":81.3},{"s":"DC-DGCN","t":27.5,"v":84.8},{"s":"DC-DGCN","t":31.7,"v":86.4},{"s":"DC-DGCN","t":35.8,"v":88.3},{"s":"DC-DGCN","t":38.6,"v":89.5},{"s":"DC-DGCN","t":42.7,"v":86.4},{"s":"DC-DGCN","t":46.8,"v":84.8},{"s":"DC-DGCN","t":51,"v":83.6},{"s":"DC-DGCN","t":55,"v":81.3},{"s":"DC-DGCN","t":59,"v":80},{"s":"DC-DGCN","t":63,"v":78.5},{"s":"DC-DGCN","t":67.5,"v":76.6},{"s":"DC-DGCN","t":71.6,"v":74.3},{"s":"DC-DGCN","t":75.8,"v":72.4},{"s":"DC-DGCN","t":78.5,"v":71.5},{"s":"DC-DGCN","t":84,"v":70.8},{"s":"DC-DGCN","t":89.5,"v":70.1},{"s":"DC-DGCN","t":95,"v":68.4},{"s":"DC-DGCN","t":100.5,"v":67.3},{"s":"DC-DGCN","t":104.7,"v":64.5},{"s":"DC-DGCN","t":106,"v":62.6},{"s":"DC-DGCN","t":108.8,"v":65.4},{"s":"DC-DGCN","t":114,"v":61.9},{"s":"DC-DGCN","t":119.8,"v":60.7},{"s":"DC-DGCN","t":125,"v":59.6},{"s":"DC-DGCN","t":130.9,"v":59.6},{"s":"DC-DGCN","t":136,"v":56},{"s":"DC-DGCN","t":141.9,"v":57.9},{"s":"DC-DGCN","t":147,"v":55.6},{"s":"DC-DGCN","t":152.9,"v":54.4},{"s":"DC-DGCN","t":158.4,"v":52},{"s":"DC-DGCN","t":164,"v":53.3},{"s":"DC-DGCN","t":166,"v":45},{"s":"DC-DGCN","t":168,"v":48.6},{"s":"DC-DGCN","t":172,"v":51.4},{"s":"DC-DGCN","t":177.7,"v":50.9},{"s":"DC-DGCN","t":183,"v":52.6},{"s":"DC-DGCN","t":190.4,"v":52.8},{"s":"DC-DGCN","t":196,"v":50.9},{"s":"DC-DGCN","t":201.4,"v":49.8},{"s":"DC-DGCN","t":206.8,"v":50.5},{"s":"DC-DGCN","t":212.3,"v":45.1},{"s":"DC-DGCN","t":217.8,"v":43.9},{"s":"DC-DGCN","t":223.2,"v":44.4},{"s":"DC-DGCN","t":228.7,"v":45},{"s":"DC-DGCN","t":234,"v":45},{"s":"DC-DGCN","t":239.6,"v":46.3},{"s":"DC-DGCN","t":242.3,"v":45},{"s":"DC-DGCN","t":245,"v":46.3},{"s":"DC-DGCN","t":247.8,"v":43.9},{"s":"DC-DGCN","t":250.5,"v":40.4},{"s":"DC-DGCN","t":256,"v":36.9},{"s":"DC-DGCN","t":261.5,"v":35.7},{"s":"DC-DGCN","t":267,"v":38},{"s":"DC-DGCN","t":272.4,"v":38.8},{"s":"DC-DGCN","t":277.9,"v":39.3},{"s":"DC-DGCN","t":283.3,"v":40.4},{"s":"DC-DGCN","t":288.8,"v":41.1},{"s":"DC-DGCN","t":294,"v":42},{"s":"DC-DGCN","t":299.7,"v":41.6},{"s":"DC-DGCN","t":305.2,"v":42.8},{"s":"DC-DGCN","t":310.7,"v":41.1},{"s":"DC-DGCN","t":316,"v":40.4},{"s":"DC-DGCN","t":321.6,"v":39.7},{"s":"DC-DGCN","t":327,"v":39.3},{"s":"DC-DGCN","t":332.5,"v":38},{"s":"DC-DGCN","t":338,"v":38},{"s":"DC-DGCN","t":340.7,"v":35.7},{"s":"DC-DGCN","t":343.4,"v":27.6},{"s":"DC-DGCN","t":346.2,"v":15.9},{"s":"DC-DGCN","t":348.9,"v":18.2},{"s":"DC-DGCN","t":351.6,"v":11.2},{"s":"DC-DGCN","t":354.4,"v":8.9},{"s":"DC-DGCN","t":359.8,"v":4.2},{"s":"DC-DGCN","t":362.6,"v":1.9},{"s":"DC-DGCN","t":365.3,"v":-1.6},{"s":"DC-DGCN","t":368.6,"v":-9.8},{"s":"DC-DGCN","t":370,"v":-11},
      {"s":"DC-DGCN Error","t":0,"v":-8.6},{"s":"DC-DGCN Error","t":1.4,"v":-4},{"s":"DC-DGCN Error","t":4,"v":-0.5},{"s":"DC-DGCN Error","t":8.3,"v":-1.6},{"s":"DC-DGCN Error","t":12.4,"v":-2.8},{"s":"DC-DGCN Error","t":16.5,"v":-4},{"s":"DC-DGCN Error","t":20.7,"v":-1.6},{"s":"DC-DGCN Error","t":22,"v":-0.5},{"s":"DC-DGCN Error","t":23.4,"v":-12},{"s":"DC-DGCN Error","t":24.5,"v":-20.3},{"s":"DC-DGCN Error","t":25.6,"v":-9.8},{"s":"DC-DGCN Error","t":29,"v":-5.1},{"s":"DC-DGCN Error","t":33,"v":-4},{"s":"DC-DGCN Error","t":37,"v":-0.9},{"s":"DC-DGCN Error","t":41,"v":-2.8},{"s":"DC-DGCN Error","t":45.5,"v":-4},{"s":"DC-DGCN Error","t":51,"v":-2.3},{"s":"DC-DGCN Error","t":56.5,"v":-2.3},{"s":"DC-DGCN Error","t":62,"v":-4},{"s":"DC-DGCN Error","t":67.5,"v":-6.3},{"s":"DC-DGCN Error","t":73,"v":-7.5},{"s":"DC-DGCN Error","t":78.5,"v":-5.1},{"s":"DC-DGCN Error","t":84,"v":-4},{"s":"DC-DGCN Error","t":89.5,"v":-4.7},{"s":"DC-DGCN Error","t":95,"v":-4.7},{"s":"DC-DGCN Error","t":100.5,"v":-4},{"s":"DC-DGCN Error","t":104.7,"v":-7.5},{"s":"DC-DGCN Error","t":108.8,"v":-5.6},{"s":"DC-DGCN Error","t":114,"v":-6.3},{"s":"DC-DGCN Error","t":119.8,"v":-7.5},{"s":"DC-DGCN Error","t":125,"v":-6.3},{"s":"DC-DGCN Error","t":130.9,"v":-7},{"s":"DC-DGCN Error","t":136,"v":-5.6},{"s":"DC-DGCN Error","t":141.9,"v":-1.6},{"s":"DC-DGCN Error","t":147,"v":-4},{"s":"DC-DGCN Error","t":152.9,"v":-5.1},{"s":"DC-DGCN Error","t":158.4,"v":-4},{"s":"DC-DGCN Error","t":162.5,"v":-2.8},{"s":"DC-DGCN Error","t":165.3,"v":-9.8},{"s":"DC-DGCN Error","t":168,"v":-5.1},{"s":"DC-DGCN Error","t":172,"v":-2.8},{"s":"DC-DGCN Error","t":177.7,"v":-0.9},{"s":"DC-DGCN Error","t":183,"v":-1.6},{"s":"DC-DGCN Error","t":193.2,"v":-0.9},{"s":"DC-DGCN Error","t":201.4,"v":-0.9},{"s":"DC-DGCN Error","t":209.6,"v":-0.5},{"s":"DC-DGCN Error","t":217.8,"v":0},{"s":"DC-DGCN Error","t":226,"v":-1.6},{"s":"DC-DGCN Error","t":234,"v":-4},{"s":"DC-DGCN Error","t":242.3,"v":-6.3},{"s":"DC-DGCN Error","t":247.8,"v":-8.6},{"s":"DC-DGCN Error","t":253.3,"v":-7.5},{"s":"DC-DGCN Error","t":258.7,"v":-4},{"s":"DC-DGCN Error","t":264.2,"v":-7.5},{"s":"DC-DGCN Error","t":269.7,"v":-11},{"s":"DC-DGCN Error","t":277.9,"v":-14.5},{"s":"DC-DGCN Error","t":286,"v":-16.8},{"s":"DC-DGCN Error","t":294,"v":-20.3},{"s":"DC-DGCN Error","t":302.4,"v":-22.7},{"s":"DC-DGCN Error","t":310.7,"v":-23.8},{"s":"DC-DGCN Error","t":318.9,"v":-23.8},{"s":"DC-DGCN Error","t":327,"v":-25},{"s":"DC-DGCN Error","t":335.3,"v":-26.2},{"s":"DC-DGCN Error","t":339.3,"v":-27.3},{"s":"DC-DGCN Error","t":341.3,"v":-23.8},{"s":"DC-DGCN Error","t":343,"v":-14.5},{"s":"DC-DGCN Error","t":345,"v":-5.1},{"s":"DC-DGCN Error","t":347.7,"v":-2.8},{"s":"DC-DGCN Error","t":351.6,"v":-1.6},{"s":"DC-DGCN Error","t":355.7,"v":-0.9},{"s":"DC-DGCN Error","t":359.8,"v":0},{"s":"DC-DGCN Error","t":364,"v":-2.8},{"s":"DC-DGCN Error","t":366.7,"v":-6.3},{"s":"DC-DGCN Error","t":370,"v":-11}
    ]
  },
  "concat": [
    {
      "width": 452, "height": 228,
      "data": {"name": "p1"},
      "encoding": {
        "x": {"field": "t", "type": "quantitative", "scale": {"domain": [0, 156.2], "nice": false, "zero": false}, "axis": {"values": [0,20,40,60,80,100,120,140], "title": "Time(min)"}},
        "y": {"field": "v", "type": "quantitative", "scale": {"domain": [-31.6, 125], "nice": false, "zero": false}, "axis": {"values": [0,25,50,75,100,125], "labelExpr": "datum.value + '%'", "title": "RUL"}}
      },
      "layer": [
        {"transform": [{"filter": "datum.s === 'DC-DGCN Error'"}], "mark": {"type": "area", "color": "#a6c0dd", "opacity": 1}, "encoding": {"y2": {"datum": 0}}},
        {"transform": [{"filter": "datum.s !== 'DC-DGCN Error' && datum.s !== 'DC-DGCN'"}], "mark": {"type": "line", "strokeWidth": 1.5},
         "encoding": {"color": {"field": "s", "type": "nominal", "scale": {"domain": ["True RUL","GCN","TCN","ConvGRU","ChebGCN-LSTM","C-LSTM","DC-DGCN","DC-DGCN Error"], "range": ["#fa6262","#d9948e","#a9da95","#ace3f0","#fdd5a0","#dcbadf","#3a77b5","#a6c0dd"]},
           "legend": {"title": null, "orient": "top-right", "offset": 3, "symbolType": "stroke", "symbolSize": 256, "rowPadding": 3, "labelOffset": 9, "labelFont": "Liberation Serif", "labelFontSize": 9, "labelColor": "#222", "fillColor": "white", "strokeColor": "#d4d4d4", "cornerRadius": 3, "padding": 5,
             "encode": {"symbols": {"update": {"shape": {"signal": "datum.value === 'DC-DGCN Error' ? 'M-1,-0.45H1V0.45H-1Z' : 'stroke'"}, "fill": {"signal": "datum.value === 'DC-DGCN Error' ? '#a6c0dd' : 'transparent'"}, "strokeWidth": {"signal": "datum.value === 'DC-DGCN Error' ? 0 : datum.value === 'DC-DGCN' ? 2 : 1.6"}}}}}}}},
        {"transform": [{"filter": "datum.s === 'DC-DGCN'"}], "mark": {"type": "line", "strokeWidth": 2},
         "encoding": {"color": {"field": "s", "type": "nominal"}}},
        {"transform": [{"filter": "datum.s === 'DC-DGCN Error'"}], "mark": {"type": "line", "strokeWidth": 2, "color": "#3a77b5"}, "encoding": {}}
      ]
    },
    {
      "width": 452, "height": 228,
      "data": {"name": "p2"},
      "encoding": {
        "x": {"field": "t", "type": "quantitative", "scale": {"domain": [0, 121], "nice": false, "zero": false}, "axis": {"values": [0,20,40,60,80,100,120], "title": "Time(min)"}},
        "y": {"field": "v", "type": "quantitative", "scale": {"domain": [-30.5, 125], "nice": false, "zero": false}, "axis": {"values": [0,25,50,75,100,125], "labelExpr": "datum.value + '%'", "title": "RUL"}}
      },
      "layer": [
        {"transform": [{"filter": "datum.s === 'DC-DGCN Error'"}], "mark": {"type": "area", "color": "#a6c0dd", "opacity": 1}, "encoding": {"y2": {"datum": 0}}},
        {"transform": [{"filter": "datum.s !== 'DC-DGCN Error' && datum.s !== 'DC-DGCN'"}], "mark": {"type": "line", "strokeWidth": 1.5},
         "encoding": {"color": {"field": "s", "type": "nominal", "scale": {"domain": ["True RUL","GCN","TCN","ConvGRU","ChebGCN-LSTM","C-LSTM","DC-DGCN","DC-DGCN Error"], "range": ["#fa6262","#d9948e","#a9da95","#ace3f0","#fdd5a0","#dcbadf","#3a77b5","#a6c0dd"]},
           "legend": {"title": null, "orient": "top-right", "offset": 3, "symbolType": "stroke", "symbolSize": 256, "rowPadding": 3, "labelOffset": 9, "labelFont": "Liberation Serif", "labelFontSize": 9, "labelColor": "#222", "fillColor": "white", "strokeColor": "#d4d4d4", "cornerRadius": 3, "padding": 5,
             "encode": {"symbols": {"update": {"shape": {"signal": "datum.value === 'DC-DGCN Error' ? 'M-1,-0.45H1V0.45H-1Z' : 'stroke'"}, "fill": {"signal": "datum.value === 'DC-DGCN Error' ? '#a6c0dd' : 'transparent'"}, "strokeWidth": {"signal": "datum.value === 'DC-DGCN Error' ? 0 : datum.value === 'DC-DGCN' ? 2 : 1.6"}}}}}}}},
        {"transform": [{"filter": "datum.s === 'DC-DGCN'"}], "mark": {"type": "line", "strokeWidth": 2},
         "encoding": {"color": {"field": "s", "type": "nominal"}}},
        {"transform": [{"filter": "datum.s === 'DC-DGCN Error'"}], "mark": {"type": "line", "strokeWidth": 2, "color": "#3a77b5"}, "encoding": {}}
      ]
    },
    {
      "width": 452, "height": 228,
      "data": {"name": "p3"},
      "encoding": {
        "x": {"field": "t", "type": "quantitative", "scale": {"domain": [0, 41], "nice": false, "zero": false}, "axis": {"values": [0,5,10,15,20,25,30,35,40], "title": "Time(min)"}},
        "y": {"field": "v", "type": "quantitative", "scale": {"domain": [-24.8, 125], "nice": false, "zero": false}, "axis": {"values": [0,25,50,75,100,125], "labelExpr": "datum.value + '%'", "title": "RUL"}}
      },
      "layer": [
        {"transform": [{"filter": "datum.s === 'DC-DGCN Error'"}], "mark": {"type": "area", "color": "#a6c0dd", "opacity": 1}, "encoding": {"y2": {"datum": 0}}},
        {"transform": [{"filter": "datum.s !== 'DC-DGCN Error' && datum.s !== 'DC-DGCN'"}], "mark": {"type": "line", "strokeWidth": 1.5},
         "encoding": {"color": {"field": "s", "type": "nominal", "scale": {"domain": ["True RUL","GCN","TCN","ConvGRU","ChebGCN-LSTM","C-LSTM","DC-DGCN","DC-DGCN Error"], "range": ["#fa6262","#d9948e","#a9da95","#ace3f0","#fdd5a0","#dcbadf","#3a77b5","#a6c0dd"]},
           "legend": {"title": null, "orient": "top-right", "offset": 3, "symbolType": "stroke", "symbolSize": 256, "rowPadding": 3, "labelOffset": 9, "labelFont": "Liberation Serif", "labelFontSize": 9, "labelColor": "#222", "fillColor": "white", "strokeColor": "#d4d4d4", "cornerRadius": 3, "padding": 5,
             "encode": {"symbols": {"update": {"shape": {"signal": "datum.value === 'DC-DGCN Error' ? 'M-1,-0.45H1V0.45H-1Z' : 'stroke'"}, "fill": {"signal": "datum.value === 'DC-DGCN Error' ? '#a6c0dd' : 'transparent'"}, "strokeWidth": {"signal": "datum.value === 'DC-DGCN Error' ? 0 : datum.value === 'DC-DGCN' ? 2 : 1.6"}}}}}}}},
        {"transform": [{"filter": "datum.s === 'DC-DGCN'"}], "mark": {"type": "line", "strokeWidth": 2},
         "encoding": {"color": {"field": "s", "type": "nominal"}}},
        {"transform": [{"filter": "datum.s === 'DC-DGCN Error'"}], "mark": {"type": "line", "strokeWidth": 2, "color": "#3a77b5"}, "encoding": {}}
      ]
    },
    {
      "width": 452, "height": 228,
      "data": {"name": "p4"},
      "encoding": {
        "x": {"field": "t", "type": "quantitative", "scale": {"domain": [0, 370.5], "nice": false, "zero": false}, "axis": {"values": [0,50,100,150,200,250,300,350], "title": "Time(min)"}},
        "y": {"field": "v", "type": "quantitative", "scale": {"domain": [-35, 125], "nice": false, "zero": false}, "axis": {"values": [0,25,50,75,100,125], "labelExpr": "datum.value + '%'", "title": "RUL"}}
      },
      "layer": [
        {"transform": [{"filter": "datum.s === 'DC-DGCN Error'"}], "mark": {"type": "area", "color": "#a6c0dd", "opacity": 1}, "encoding": {"y2": {"datum": 0}}},
        {"transform": [{"filter": "datum.s !== 'DC-DGCN Error' && datum.s !== 'DC-DGCN'"}], "mark": {"type": "line", "strokeWidth": 1.5},
         "encoding": {"color": {"field": "s", "type": "nominal", "scale": {"domain": ["True RUL","GCN","TCN","ConvGRU","ChebGCN-LSTM","C-LSTM","DC-DGCN","DC-DGCN Error"], "range": ["#fa6262","#d9948e","#a9da95","#ace3f0","#fdd5a0","#dcbadf","#3a77b5","#a6c0dd"]},
           "legend": {"title": null, "orient": "top-right", "offset": 3, "symbolType": "stroke", "symbolSize": 256, "rowPadding": 3, "labelOffset": 9, "labelFont": "Liberation Serif", "labelFontSize": 9, "labelColor": "#222", "fillColor": "white", "strokeColor": "#d4d4d4", "cornerRadius": 3, "padding": 5,
             "encode": {"symbols": {"update": {"shape": {"signal": "datum.value === 'DC-DGCN Error' ? 'M-1,-0.45H1V0.45H-1Z' : 'stroke'"}, "fill": {"signal": "datum.value === 'DC-DGCN Error' ? '#a6c0dd' : 'transparent'"}, "strokeWidth": {"signal": "datum.value === 'DC-DGCN Error' ? 0 : datum.value === 'DC-DGCN' ? 2 : 1.6"}}}}}}}},
        {"transform": [{"filter": "datum.s === 'DC-DGCN'"}], "mark": {"type": "line", "strokeWidth": 2},
         "encoding": {"color": {"field": "s", "type": "nominal"}}},
        {"transform": [{"filter": "datum.s === 'DC-DGCN Error'"}], "mark": {"type": "line", "strokeWidth": 2, "color": "#3a77b5"}, "encoding": {}}
      ]
    }
  ],
  "resolve": {"scale": {"x": "independent", "y": "independent", "color": "independent"}, "legend": {"color": "independent"}, "axis": {"x": "independent", "y": "independent"}},
  "config": {
    "font": "Liberation Serif",
    "view": {"stroke": "#8a8a8a", "strokeWidth": 1.2},
    "axis": {"grid": false, "domain": false, "labelFont": "Liberation Serif", "titleFont": "Liberation Serif", "labelFontSize": 16, "titleFontSize": 18, "titleFontWeight": "normal", "labelColor": "#222", "titleColor": "#222", "tickColor": "#777", "tickSize": 4, "labelPadding": 3},
    "axisX": {"titlePadding": 5},
    "axisY": {"titlePadding": 6}
  }
}
